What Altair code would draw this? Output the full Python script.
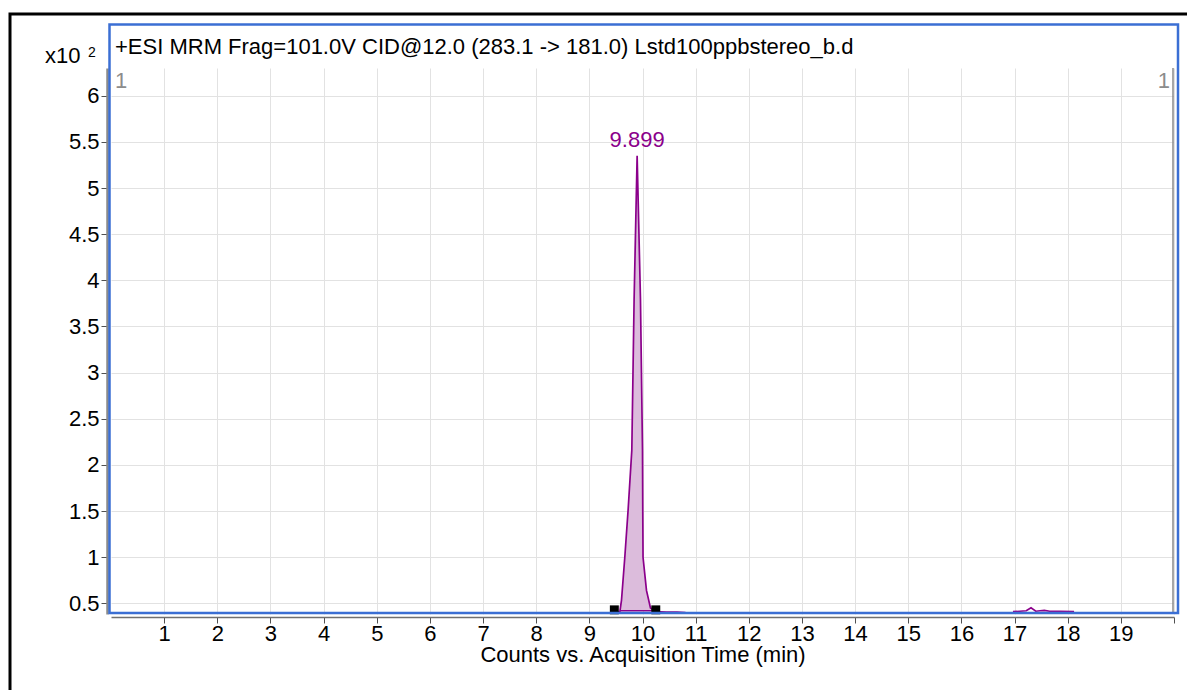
import altair as alt
import pandas as pd

# Chromatogram trace: retention time (min) and counts (x10^2)
peak_time = [9.45, 9.50, 9.574, 9.605, 9.667, 9.729, 9.799, 9.842, 9.899, 9.962, 10.00,
             10.005, 10.01, 10.075, 10.15, 10.25, 10.45, 10.65, 10.81]
peak_counts = [0.40, 0.40, 0.41, 0.536, 1.00, 1.51, 2.16, 3.79, 5.35, 3.79, 2.16,
               1.50, 1.00, 0.64, 0.45, 0.41, 0.405, 0.405, 0.40]
late_time = [16.97, 17.10, 17.22, 17.31, 17.40, 17.48, 17.56, 17.66, 17.85, 18.12]
late_counts = [0.41, 0.415, 0.42, 0.453, 0.415, 0.42, 0.425, 0.415, 0.415, 0.41]

# Integrated region (fill between integration start and end)
fill_time = [9.574, 9.605, 9.667, 9.729, 9.799, 9.842, 9.899, 9.962, 10.00, 10.005,
             10.01, 10.075, 10.15, 10.25]
fill_counts = [0.41, 0.536, 1.00, 1.51, 2.16, 3.79, 5.35, 3.79, 2.16, 1.50,
               1.00, 0.64, 0.45, 0.42]
fill_base = 0.42

# Integration markers
marker_time = [9.47, 10.25]
marker_counts = [0.43, 0.43]

apex_time = 9.899
apex_counts = 5.35
apex_label = "9.899"

x_ticks = list(range(1, 21))
y_ticks = [0.5, 1, 1.5, 2, 2.5, 3, 3.5, 4, 4.5, 5, 5.5, 6]

title_text = "+ESI MRM Frag=101.0V CID@12.0 (283.1 -> 181.0) Lstd100ppbstereo_b.d"

FONT = "Liberation Sans"
FS = 22
PURPLE = "#8b008b"
BLUE = "#3b6fd4"

trace = pd.concat([
    pd.DataFrame({"t": peak_time, "c": peak_counts, "seg": "a"}),
    pd.DataFrame({"t": late_time, "c": late_counts, "seg": "b"}),
])
fill = pd.DataFrame({"t": fill_time, "c": fill_counts, "base": fill_base})
markers = pd.DataFrame({"t": marker_time, "c": marker_counts})
apex = pd.DataFrame({"t": [apex_time], "c": [apex_counts], "label": [apex_label]})

xs = alt.Scale(domain=[0, 20], nice=False, zero=False)
ys = alt.Scale(domain=[0.385, 6.3], nice=False, zero=False)

x_axis = alt.Axis(values=x_ticks, title="Counts vs. Acquisition Time (min)",
                  labelExpr="datum.value == 20 ? '' : datum.label",
                  offset=3, tickSize=6, labelPadding=0, titlePadding=0,
                  domainColor="#707070", tickColor="#505050", domainWidth=1.5,
                  gridColor="#e2e2e2", labelFontSize=FS, titleFontSize=FS,
                  titleFontWeight="normal", labelColor="black", titleColor="black",
                  labelFont=FONT, titleFont=FONT)
y_axis = alt.Axis(values=y_ticks, title=None, offset=4, tickSize=6, labelPadding=2,
                  format="~g",
                  domainColor="#8a8a8a", domainWidth=2.5, tickColor="#505050",
                  gridColor="#e2e2e2", labelFontSize=FS, labelColor="black",
                  labelFont=FONT)

base = alt.Chart(trace)

area = alt.Chart(fill).mark_area(color="#dcbcdc", opacity=1).encode(
    x=alt.X("t:Q", scale=xs, axis=x_axis),
    y=alt.Y("c:Q", scale=ys, axis=y_axis),
    y2="base:Q",
)
fill_floor = alt.Chart(fill).mark_rule(color=PURPLE, strokeWidth=1.5).encode(
    x=alt.X("min(t):Q", scale=xs),
    x2="max(t):Q",
    y=alt.Y("mean(base):Q", scale=ys),
)
line = base.mark_line(color=PURPLE, strokeWidth=1.7).encode(
    x=alt.X("t:Q", scale=xs),
    y=alt.Y("c:Q", scale=ys),
    detail="seg:N",
)
marks = alt.Chart(markers).mark_square(color="black", size=80, opacity=1).encode(
    x=alt.X("t:Q", scale=xs),
    y=alt.Y("c:Q", scale=ys),
)
apex_text = alt.Chart(apex).mark_text(color=PURPLE, fontSize=FS, font=FONT, dy=-16).encode(
    x=alt.X("t:Q", scale=xs),
    y=alt.Y("c:Q", scale=ys),
    text="label:N",
)

# Frames and annotations around the plot
frame_data = pd.DataFrame({"k": [0]})
outer = alt.Chart(frame_data).mark_rect(fill=None, stroke="black", strokeWidth=3, clip=False).encode(
    x=alt.value(-101), x2=alt.value(1200), y=alt.value(-54), y2=alt.value(700))
blue = alt.Chart(frame_data).mark_rect(fill=None, stroke=BLUE, strokeWidth=2.5, clip=False).encode(
    x=alt.value(-1.5), x2=alt.value(1067), y=alt.value(-43.5), y2=alt.value(545))
right_edge = alt.Chart(frame_data).mark_rule(color="#8a8a8a", strokeWidth=1.5).encode(
    x=alt.value(1062), y=alt.value(0), y2=alt.value(545))
title = alt.Chart(frame_data).mark_text(align="left", baseline="middle", fontSize=FS,
                                        font=FONT, color="black").encode(
    x=alt.value(4), y=alt.value(-21), text=alt.value(title_text))
exp_main = alt.Chart(frame_data).mark_text(align="left", baseline="alphabetic", fontSize=FS,
                                           font=FONT, color="black").encode(
    x=alt.value(-66), y=alt.value(-5), text=alt.value("x10"))
exp_sup = alt.Chart(frame_data).mark_text(align="left", baseline="alphabetic", fontSize=14,
                                          font=FONT, color="black").encode(
    x=alt.value(-23), y=alt.value(-11), text=alt.value("2"))
pane_left = alt.Chart(frame_data).mark_text(align="left", baseline="middle", fontSize=FS,
                                            font=FONT, color="#8c8c8c").encode(
    x=alt.value(4), y=alt.value(13), text=alt.value("1"))
pane_right = alt.Chart(frame_data).mark_text(align="right", baseline="middle", fontSize=FS,
                                             font=FONT, color="#8c8c8c").encode(
    x=alt.value(1059), y=alt.value(13), text=alt.value("1"))

chart = alt.layer(
    area, fill_floor, line, marks, right_edge, blue, outer, apex_text,
    title, exp_main, exp_sup, pane_left, pane_right,
).properties(
    width=1063, height=546,
    autosize=alt.AutoSizeParams(type="none"),
    padding={"left": 111, "top": 68, "right": 13, "bottom": 76},
    background="white",
).configure_view(stroke=None)

chart.save("out.html", embed_options={"renderer": "svg", "actions": False})
